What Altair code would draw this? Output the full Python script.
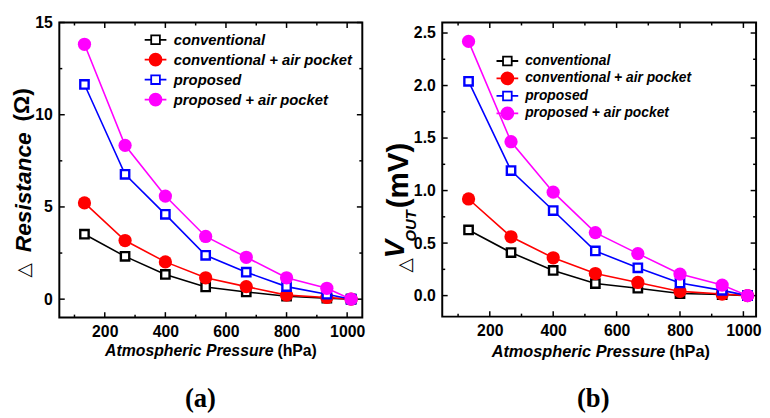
import altair as alt
import pandas as pd

# ---------------- data ----------------
pressure = [133, 267, 400, 533, 667, 800, 933, 1013]
series_names = ["conventional", "conventional + air pocket", "proposed", "proposed + air pocket"]
series_colors = ["#000000", "#ff0000", "#0000ff", "#ff00ff"]
series_fills = ["#ffffff", "#ff0000", "#ffffff", "#ff00ff"]
series_filled = [False, True, False, True]

res_conv = [3.52, 2.32, 1.34, 0.66, 0.39, 0.16, 0.05, 0.0]
res_conv_air = [5.22, 3.18, 2.02, 1.16, 0.68, 0.22, 0.09, 0.0]
res_prop = [11.64, 6.77, 4.60, 2.38, 1.46, 0.68, 0.27, 0.0]
res_prop_air = [13.82, 8.34, 5.59, 3.40, 2.27, 1.16, 0.59, 0.0]

vout_conv = [0.625, 0.41, 0.24, 0.115, 0.07, 0.02, 0.01, 0.0]
vout_conv_air = [0.92, 0.56, 0.36, 0.21, 0.125, 0.04, 0.015, 0.0]
vout_prop = [2.04, 1.19, 0.81, 0.425, 0.265, 0.12, 0.05, 0.0]
vout_prop_air = [2.42, 1.465, 0.985, 0.60, 0.40, 0.205, 0.10, 0.0]

x_major = [200, 400, 600, 800, 1000]
x_minor = [100, 300, 500, 700, 900]
res_major = [0, 5, 10, 15]
res_minor = [2.5, 7.5, 12.5]
vout_major = [0.0, 0.5, 1.0, 1.5, 2.0, 2.5]
vout_minor = [0.25, 0.75, 1.25, 1.75, 2.25]

FONT = "Liberation Sans"
SQ_PATH = "M-2,0H-0.8M0.8,0H2M-0.8,-0.8H0.8V0.8H-0.8Z"
CI_PATH = "M-2,0H2M-1.1,0A1.1,1.1,0,1,0,1.1,0A1.1,1.1,0,1,0,-1.1,0Z"


def one():
    return pd.DataFrame({"k": [0]})


def text_layer(txt, x, y, size, weight="bold", style="normal", angle=0, font=FONT,
               align="center", baseline="middle"):
    return alt.Chart(one()).mark_text(
        text=txt, font=font, fontSize=size, fontWeight=weight, fontStyle=style,
        angle=angle, align=align, baseline=baseline, color="black"
    ).encode(x=alt.value(x), y=alt.value(y))


def panel(series_vals, xdom, ydom, ymaj, ymin, yfmt, W, H, leg, ytitle_layers,
          xt_y, xt_split, xt_size, cap_txt, cap_x, cap_y):
    xs = alt.Scale(domain=xdom, nice=False, zero=False)
    ys = alt.Scale(domain=ydom, nice=False, zero=False)
    common = dict(labelFont=FONT, labelFontSize=16, labelFontWeight="bold", labelColor="black",
                  ticks=False, domain=False, grid=False, title=None, labelFlush=False,
                  labelOverlap=False)
    xax = alt.Axis(values=x_major, labelPadding=6, format="d", **common)
    yax = alt.Axis(values=ymaj, labelPadding=7, format=yfmt, **common)

    def X(f):
        return alt.X(f, type="quantitative", scale=xs, axis=xax)

    def Y(f):
        return alt.Y(f, type="quantitative", scale=ys, axis=yax)

    layers = []
    # legend-only layer (no marks drawn)
    legdf = pd.DataFrame({"series": series_names})
    lg = dict(title=None, orient="none", legendX=leg["x"], legendY=leg["y"], labelFont=FONT,
              labelFontSize=leg["fs"], labelFontWeight="bold", labelFontStyle="italic",
              labelColor="black", symbolSize=121, symbolStrokeWidth=1.8,
              rowPadding=leg["rp"], labelOffset=11, padding=0, labelLimit=500)
    layers.append(
        alt.Chart(legdf).transform_filter("false").mark_point(filled=False, opacity=1).encode(
            color=alt.Color("series:N", scale=alt.Scale(domain=series_names, range=series_colors),
                            legend=alt.Legend(**lg)),
            fill=alt.Fill("series:N", scale=alt.Scale(domain=series_names, range=series_fills),
                          legend=alt.Legend(**lg)),
            shape=alt.Shape("series:N",
                            scale=alt.Scale(domain=series_names,
                                            range=[SQ_PATH, CI_PATH, SQ_PATH, CI_PATH]),
                            legend=alt.Legend(**lg)),
        )
    )
    # inward ticks on all four sides
    for vals, ln in ((ymaj, 5.5), (ymin, 3)):
        d = pd.DataFrame({"v": vals})
        layers.append(alt.Chart(d).mark_rule(color="black", strokeWidth=1.5).encode(
            y=Y("v"), x=alt.value(0), x2=alt.value(ln)))
        layers.append(alt.Chart(d).mark_rule(color="black", strokeWidth=1.5).encode(
            y=Y("v"), x=alt.value(W), x2=alt.value(W - ln)))
    for vals, ln in ((x_major, 5.5), (x_minor, 3)):
        d = pd.DataFrame({"v": vals})
        layers.append(alt.Chart(d).mark_rule(color="black", strokeWidth=1.5).encode(
            x=X("v"), y=alt.value(H), y2=alt.value(H - ln)))
        layers.append(alt.Chart(d).mark_rule(color="black", strokeWidth=1.5).encode(
            x=X("v"), y=alt.value(0), y2=alt.value(ln)))
    # data series
    for name, vals, col, filled in zip(series_names, series_vals, series_colors, series_filled):
        d = pd.DataFrame({"p": pressure, "v": vals, "series": name})
        layers.append(alt.Chart(d).mark_line(color=col, strokeWidth=1.6).encode(x=X("p"), y=Y("v")))
        if filled:
            layers.append(alt.Chart(d).mark_circle(color=col, size=180, opacity=1).encode(
                x=X("p"), y=Y("v")))
        else:
            layers.append(alt.Chart(d).mark_point(shape="square", stroke=col, fill="white",
                                                  strokeWidth=2.4, size=72, opacity=1).encode(
                x=X("p"), y=Y("v")))
    # axis titles
    layers.append(text_layer("Atmospheric Pressure", xt_split - 2, xt_y, xt_size,
                             style="italic", align="right"))
    layers.append(text_layer("(hPa)", xt_split + 2, xt_y, xt_size, align="left"))
    layers.extend(ytitle_layers)
    layers.append(text_layer(cap_txt, cap_x, cap_y, 27, font="Liberation Serif"))
    return alt.layer(*layers).properties(width=W, height=H)


WA, HA = 307, 299
WB, HB = 318, 298

ytitle_a = [
    text_layer("\u25b3", -36, 251, 19, weight="normal", angle=270, font="DejaVu Sans"),
    text_layer("Resistance", -36, 172, 23, style="italic", angle=270),
    text_layer("(\u03a9)", -38, 83.5, 23, angle=270),
]
ytitle_b = [
    text_layer("\u25b3", -38, 246, 19, weight="normal", angle=270, font="DejaVu Sans"),
    text_layer("V", -46.5, 229.5, 28, style="italic", angle=270),
    text_layer("OUT", -32, 206, 15, style="italic", angle=270),
    text_layer("(mV)", -44, 155, 30, angle=270),
]

pa = panel([res_conv, res_conv_air, res_prop, res_prop_air], [50, 1050], [-1, 15],
           res_major, res_minor, "d", WA, HA,
           dict(x=90, y=10, fs=15, rp=1.2), ytitle_a,
           333, 219, 16, "(a)", 143, 382)
pb = panel([vout_conv, vout_conv_air, vout_prop, vout_prop_air], [50, 1040], [-0.2, 2.6],
           vout_major, vout_minor, ".1f", WB, HB,
           dict(x=59, y=32, fs=14, rp=-0.3), ytitle_b,
           334, 228, 16.5, "(b)", 153, 382)

chart = alt.hconcat(pa, pb, spacing=81, bounds="flush").resolve_scale(
    color="independent", fill="independent", shape="independent"
).resolve_legend(
    color="independent", fill="independent", shape="independent"
).configure_view(
    stroke="black", strokeWidth=2
).properties(padding={"left": 2, "top": 3, "right": 0, "bottom": 0})

chart.save("out.html", embed_options={"renderer": "svg", "actions": False})
